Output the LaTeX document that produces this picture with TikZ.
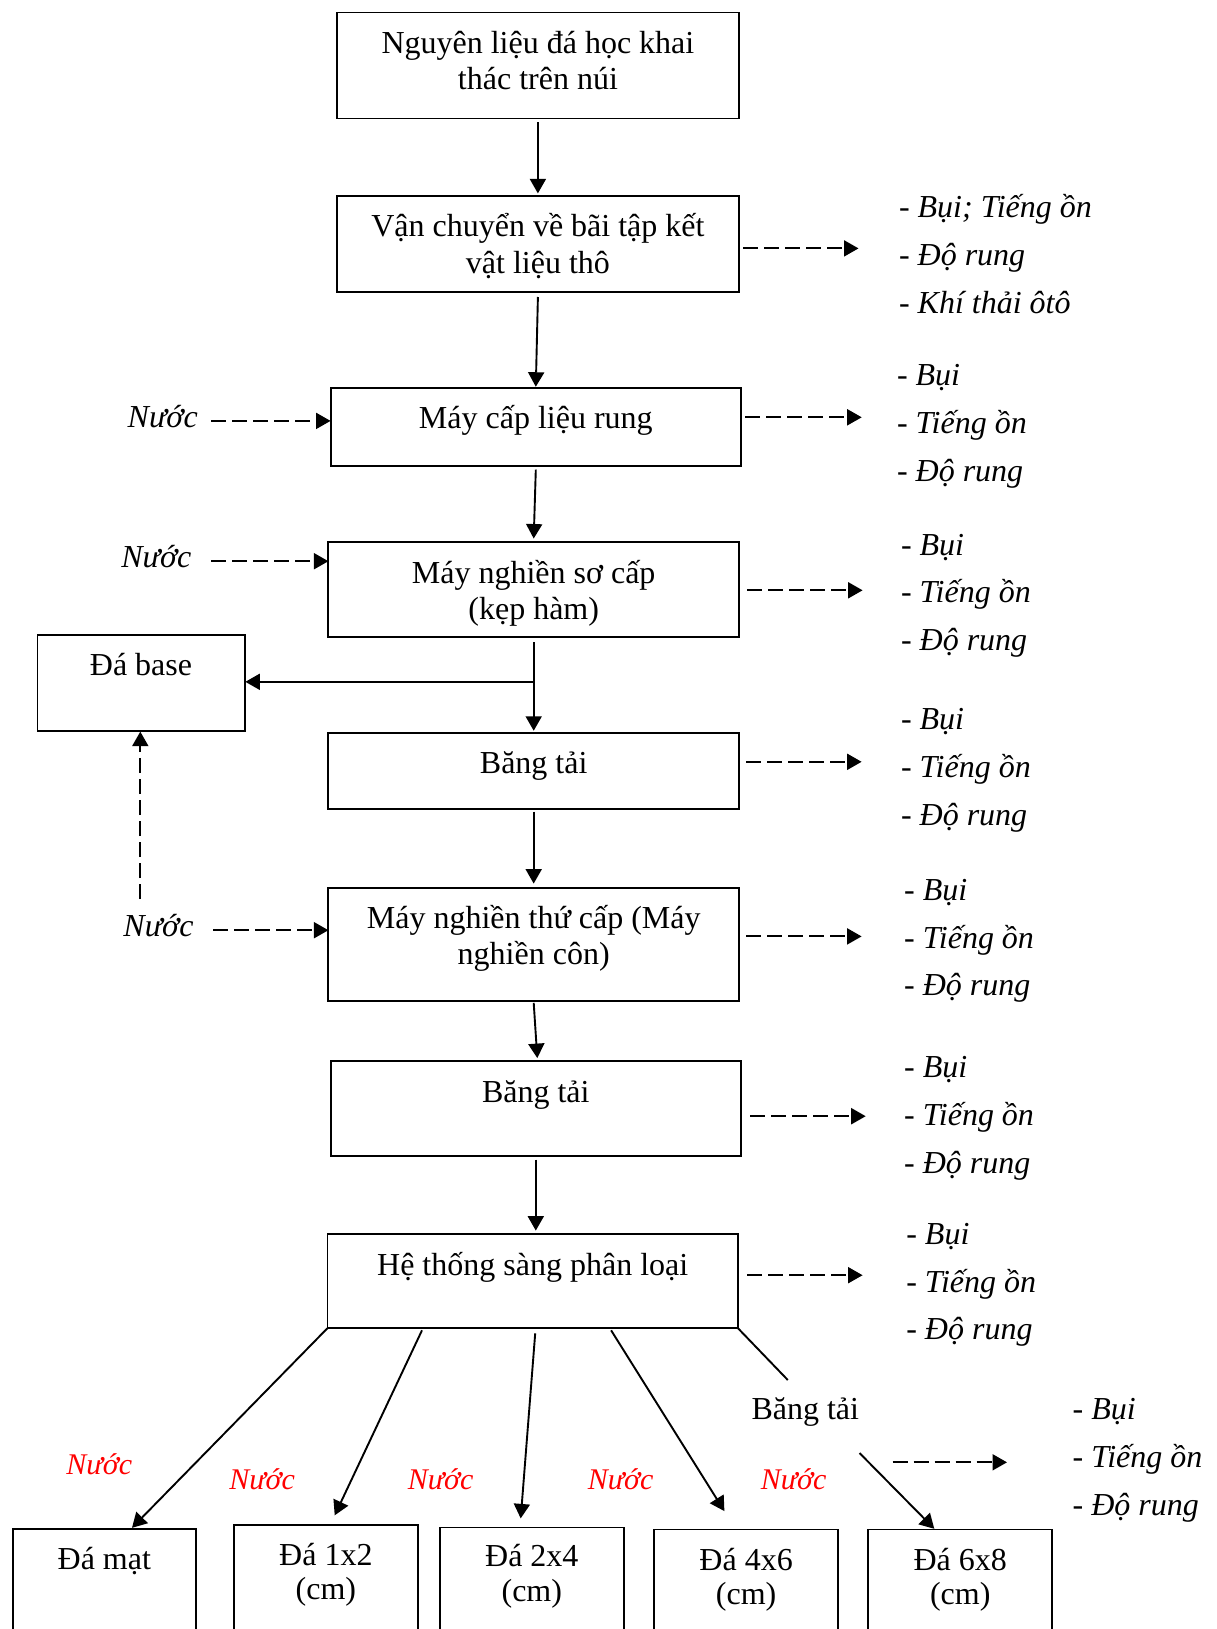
\documentclass[tikz,border=0pt]{standalone}
\usepackage{fontspec}
\setmainfont{Liberation Serif}
\usetikzlibrary{arrows.meta,calc}
\newcommand{\emlist}[6]{%
  \node[lst] (#1a) at (#2,#3+2.5) {#4};
  \node[lst] (#1b) at (#2,#3+50.3) {#5};
  \node[lst] (#1c) at (#2,#3+98.1) {#6};}
\begin{document}
\begin{tikzpicture}[x=1pt,y=-1pt,
  every node/.style={inner sep=0pt, outer sep=0pt},
  box/.style={draw, line width=1.9pt, rectangle},
  txt/.style={anchor=base, font=\fontsize{32}{36}\selectfont},
  lst/.style={anchor=base west, font=\fontsize{32}{36}\selectfont\itshape},
  water/.style={anchor=base, font=\fontsize{32}{36}\selectfont\itshape},
  redw/.style={anchor=base, font=\fontsize{30}{34}\selectfont\itshape, text=red},
  arr/.style={-{Triangle[length=14.5pt,width=16pt]}, line width=1.9pt},
  darr/.style={-{Triangle[length=14.5pt,width=16pt]}, line width=1.9pt, dash pattern=on 15pt off 6pt},
  seg/.style={line width=1.9pt}]
\useasboundingbox (0,0) rectangle (1216,1629);
\clip (0,0) rectangle (1216,1629);

% main boxes
\node[box, minimum width=402.3pt, minimum height=106pt] (b1) at (537.9,65.5) {};
\node[box, minimum width=402.3pt, minimum height=95.6pt] (b2) at (537.9,244.2) {};
\node[box, minimum width=410.5pt, minimum height=77.9pt] (b3) at (535.8,426.7) {};
\node[box, minimum width=410.6pt, minimum height=95.5pt] (b4) at (533.7,589.3) {};
\node[box, minimum width=207.9pt, minimum height=95.6pt] (base) at (141.4,682.8) {};
\node[box, minimum width=410.6pt, minimum height=75.9pt] (bt1) at (533.7,770.7) {};
\node[box, minimum width=410.6pt, minimum height=113.2pt] (b6) at (533.7,944.2) {};
\node[box, minimum width=410.5pt, minimum height=94.6pt] (bt2) at (535.8,1108.4) {};
\node[box, minimum width=410.5pt, minimum height=94.6pt] (sang) at (532.7,1280.9) {};

% bottom boxes (cut by the lower edge)
\node[box, minimum width=183.5pt, minimum height=200pt] (dm) at (104.3,1629.3) {};
\node[box, minimum width=184.2pt, minimum height=200pt] (d12) at (325.9,1625.3) {};
\node[box, minimum width=183.9pt, minimum height=200pt] (d24) at (531.8,1627.5) {};
\node[box, minimum width=184.2pt, minimum height=200pt] (d46) at (746.1,1629.5) {};
\node[box, minimum width=184.3pt, minimum height=200pt] (d68) at (960.2,1629.5) {};

% box texts
\node[txt] (t1a) at (537.9,53.3) {Nguyên liệu đá học khai};
\node[txt] (t1b) at (537.9,90) {thác trên núi};
\node[txt] (t2a) at (537.9,236.7) {Vận chuyển về bãi tập kết};
\node[txt] (t2b) at (537.9,273.3) {vật liệu thô};
\node[txt] (t3) at (535.8,428) {Máy cấp liệu rung};
\node[txt] (t4a) at (533.7,583) {Máy nghiền sơ cấp};
\node[txt] (t4b) at (533.7,619.5) {(kẹp hàm)};
\node[txt] (tbase) at (141,675) {Đá base};
\node[txt] (tbt1) at (533.7,773.3) {Băng tải};
\node[txt] (t6a) at (533.7,928.3) {Máy nghiền thứ cấp (Máy};
\node[txt] (t6b) at (533.7,964.8) {nghiền côn)};
\node[txt] (tbt2) at (535.8,1102.5) {Băng tải};
\node[txt] (tsang) at (532.7,1275) {Hệ thống sàng phân loại};
\node[txt] (tbt3) at (805.3,1419) {Băng tải};

\node[txt] (tdm) at (104.3,1569.3) {Đá mạt};
\node[txt] (td12a) at (325.9,1565) {Đá 1x2};
\node[txt] (td12b) at (325.9,1599) {(cm)};
\node[txt] (td24a) at (531.8,1566.7) {Đá 2x4};
\node[txt] (td24b) at (531.8,1601.5) {(cm)};
\node[txt] (td46a) at (746.1,1570) {Đá 4x6};
\node[txt] (td46b) at (746.1,1604.5) {(cm)};
\node[txt] (td68a) at (960.2,1570) {Đá 6x8};
\node[txt] (td68b) at (960.2,1604.5) {(cm)};

% water labels
\node[water] (w1) at (162.7,427) {Nước};
\node[water] (w2) at (156.4,567) {Nước};
\node[water] (w3) at (158.5,936) {Nước};
\node[redw] (r1) at (99.3,1474.5) {Nước};
\node[redw] (r2) at (262.2,1489.5) {Nước};
\node[redw] (r3) at (440.7,1489.5) {Nước};
\node[redw] (r4) at (620.6,1489.5) {Nước};
\node[redw] (r5) at (793.6,1489.5) {Nước};

% emission lists
\emlist{L2}{899}{215}{- Bụi; Tiếng ồn}{- Độ rung}{- Khí thải ôtô}
\emlist{L3}{897}{383.3}{- Bụi}{- Tiếng ồn}{- Độ rung}
\emlist{L4}{901}{552.6}{- Bụi}{- Tiếng ồn}{- Độ rung}
\emlist{L5}{901}{727.2}{- Bụi}{- Tiếng ồn}{- Độ rung}
\emlist{L6}{904.2}{897.7}{- Bụi}{- Tiếng ồn}{- Độ rung}
\emlist{L7}{904.2}{1075.4}{- Bụi}{- Tiếng ồn}{- Độ rung}
\emlist{L8}{906.3}{1241.7}{- Bụi}{- Tiếng ồn}{- Độ rung}
\emlist{L9}{1072.6}{1417.3}{- Bụi}{- Tiếng ồn}{- Độ rung}

% main flow
\draw[arr] ([yshift=-4pt]b1.south) -- ([yshift=3pt]b2.north);
\draw[arr] ([yshift=-5pt]b2.south) -- ([yshift=1pt]b3.north);
\draw[arr] ([yshift=-4pt]b3.south) -- ([yshift=3pt]b4.north);
\coordinate (j) at (534.2,681.8);
\draw[arr] ([yshift=-5pt]b4.south) -- ([yshift=2pt]bt1.north);
\draw[arr] (j) -- (base.east |- j);
\draw[arr] ([yshift=-3pt]bt1.south) -- ([yshift=4pt]b6.north);
\draw[arr] ([yshift=-2pt]b6.south) -- ([xshift=1.5pt,yshift=3pt]bt2.north);
\draw[arr] ([yshift=-4pt]bt2.south) -- ([yshift=3pt]bt2.south |- sang.north);

% water inputs
\coordinate (w1s) at (211,420.9);
\coordinate (w2s) at (211,561.2);
\coordinate (w3s) at (213,930.2);
\draw[darr] (w1s) -- (b3.west |- w1s);
\draw[darr] (w2s) -- (b4.west |- w2s);
\draw[darr] (w3s) -- (b6.west |- w3s);
\coordinate (up) at (140.3,899);
\draw[darr] (up) -- ([yshift=-1pt]up |- base.south);

% emissions arrows
\coordinate (e2s) at (743,248.4);   \coordinate (e2e) at (858.5,248.4);
\coordinate (e3s) at (745,417.3);   \coordinate (e3e) at (861.7,417.3);
\coordinate (e4s) at (747.3,590.3); \coordinate (e4e) at (862.6,590.3);
\coordinate (e5s) at (746.2,761.8); \coordinate (e5e) at (861.6,761.8);
\coordinate (e6s) at (746.2,936.4); \coordinate (e6e) at (861.6,936.4);
\coordinate (e7s) at (750.4,1116.2);\coordinate (e7e) at (865.7,1116.2);
\coordinate (e8s) at (747.3,1275.2);\coordinate (e8e) at (862.6,1275.2);
\coordinate (e9s) at (892.5,1462.3);\coordinate (e9e) at (1007,1462.3);
\foreach \k in {2,...,9} {\draw[darr] (e\k s) -- (e\k e);}

% screening outputs
\coordinate (s2) at (422,1330.3);
\coordinate (s3) at (535.2,1333.4);
\coordinate (s4) at (611.1,1330.3);
\coordinate (k1) at (132,1527.8);
\coordinate (k2) at (334.7,1515.3);
\coordinate (k3) at (520.7,1518.4);
\coordinate (k4) at (724.4,1511.1);
\coordinate (c1) at (787.8,1380);
\coordinate (c2s) at (859.5,1453);
\coordinate (k5) at (934.3,1528.8);
\draw[arr] (sang.south west) -- (k1);
\draw[arr] (s2) -- (k2);
\draw[arr] (s3) -- (k3);
\draw[arr] (s4) -- (k4);
\draw[seg] (sang.south east) -- (c1);
\draw[arr] (c2s) -- (k5);
\end{tikzpicture}
\end{document}
